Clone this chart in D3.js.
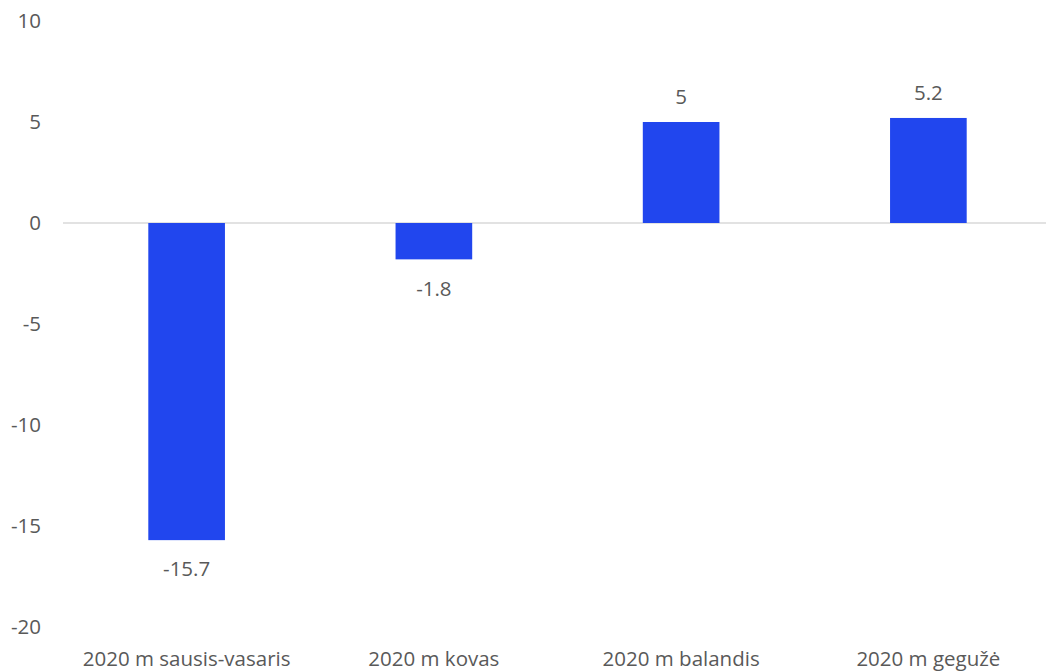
<!DOCTYPE html>
<html><head><meta charset="utf-8">
<script src="https://cdn.jsdelivr.net/npm/d3@7"></script>
<style>body{margin:0;background:#fff}svg{display:block}</style>
</head><body><svg id="c" width="1046" height="672"></svg>
<script>
const categories = ["2020 m sausis-vasaris","2020 m kovas","2020 m balandis","2020 m gegužė"];
const values = [-15.7, -1.8, 5, 5.2];
const yTicks = [10, 5, 0, -5, -10, -15, -20];

const svg = d3.select("#c");
const font = "'Open Sans', sans-serif";
const fs = 20.5;
const textColor = "#595959";
const x = d3.scaleBand().domain(categories).range([63, 1052]).paddingInner(0.69).paddingOuter(0.345);
const y = d3.scaleLinear().domain([-20, 10]).range([627, 21]);

// zero line
svg.append("line").attr("x1", 63).attr("x2", 1046).attr("y1", y(0)).attr("y2", y(0))
  .attr("stroke", "#d9d9d9").attr("stroke-width", 1.3);

// y axis labels
const yAxis = d3.axisLeft(y).tickValues(yTicks).tickSize(0).tickPadding(0).tickFormat(d => String(d));
const ga = svg.append("g").attr("transform", "translate(41,0)").call(yAxis);
ga.select(".domain").remove();
ga.selectAll("text").attr("font-family", font).attr("font-size", fs).attr("fill", textColor);

// bars
svg.selectAll("rect.bar").data(values).join("rect").attr("class","bar")
  .attr("x", (d,i) => x(categories[i]))
  .attr("width", x.bandwidth())
  .attr("y", d => y(Math.max(0,d)))
  .attr("height", d => Math.abs(y(d) - y(0)))
  .attr("fill", "#2146EE");

// value labels
svg.selectAll("text.val").data(values).join("text").attr("class","val")
  .attr("x", (d,i) => x(categories[i]) + x.bandwidth()/2)
  .attr("y", d => d >= 0 ? y(d) - 25 : y(d) + 29)
  .attr("dy", "0.35em")
  .attr("text-anchor", "middle")
  .attr("font-family", font).attr("font-size", fs).attr("fill", textColor)
  .text(d => String(d));

// category labels
const xAxis = d3.axisBottom(x).tickSize(0).tickPadding(0);
const gx = svg.append("g").attr("transform", "translate(0,651)").call(xAxis);
gx.select(".domain").remove();
gx.selectAll("text").attr("font-family", font).attr("font-size", fs).attr("fill", textColor);
</script></body></html>
